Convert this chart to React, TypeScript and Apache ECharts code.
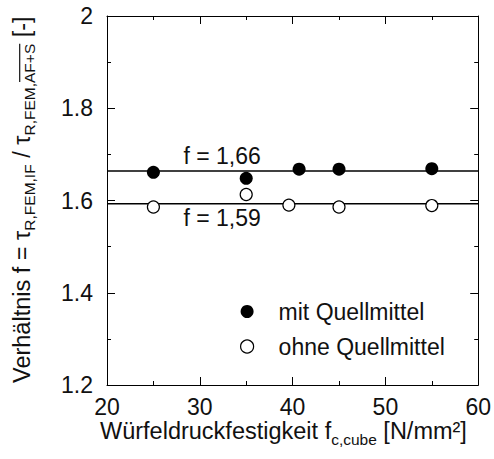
import React, { useEffect, useRef } from "react";
import * as echarts from "echarts";

// ---- data ----
const xMin = 20;
const xMax = 60;
const xStep = 10;
const yMin = 1.2;
const yMax = 2.0;
const yStep = 0.2;

const seriesNames = ["mit Quellmittel", "ohne Quellmittel"];
const mitX = [25, 35, 40.7, 45, 55];
const mitY = [1.661, 1.648, 1.668, 1.668, 1.669];
const ohneX = [25, 35, 39.6, 45, 55];
const ohneY = [1.586, 1.613, 1.59, 1.586, 1.589];

const fitLevels = [1.664, 1.593];
const fitLabels = ["f = 1,66", "f = 1,59"];
const fitLabelX = [32.4, 32.4];
const fitLabelY = [1.696, 1.563];

const yTitleParts = [
  { t: "Verhältnis f = τ", sub: false, over: false },
  { t: "R,FEM,IF", sub: true, over: false },
  { t: " / τ", sub: false, over: false },
  { t: "R,FEM,", sub: true, over: false },
  { t: "AF+S", sub: true, over: true },
  { t: " [-]", sub: false, over: false },
];
const xTitleParts = [
  { t: "Würfeldruckfestigkeit f", sub: false, over: false },
  { t: "c,cube", sub: true, over: false },
  { t: " [N/mm²]", sub: false, over: false },
];

const FONT = "Liberation Sans, Arial, sans-serif";
const INK = "#111";

function measure(text: string, size: number) {
  const ctx = document.createElement("canvas").getContext("2d")!;
  ctx.font = `${size}px ${FONT}`;
  return ctx.measureText(text).width;
}

function buildRich(parts: { t: string; sub: boolean; over: boolean }[], main: number, sub: number, subDy: number) {
  const children: any[] = [];
  let cur = 0;
  for (const p of parts) {
    const size = p.sub ? sub : main;
    const w = measure(p.t, size);
    children.push({
      type: "text",
      x: cur,
      y: p.sub ? subDy : 0,
      style: {
        text: p.t,
        fontSize: size,
        fontFamily: FONT,
        fill: INK,
        align: "left",
        verticalAlign: "middle",
      },
    });
    if (p.over) {
      children.push({
        type: "line",
        shape: { x1: cur + 1, y1: subDy - sub * 0.6, x2: cur + w, y2: subDy - sub * 0.6 },
        style: { stroke: INK, lineWidth: 1.2 },
      });
    }
    cur += w;
  }
  return { children, width: cur };
}

export default function App() {
  const ref = useRef<HTMLDivElement>(null);

  useEffect(() => {
    if (!ref.current) return;
    const chart = echarts.init(ref.current, undefined, { renderer: "svg" });

    const yT = buildRich(yTitleParts, 23.5, 15.5, 7);
    const xT = buildRich(xTitleParts, 23.5, 15.5, 8);

    const axisCommon = {
      type: "value" as const,
      axisLine: { show: true, lineStyle: { color: "#000", width: 1 } },
      axisTick: { show: true, inside: true, length: 8, lineStyle: { color: "#000" } },
      minorTick: { show: true, splitNumber: 2, length: 4, lineStyle: { color: "#000" } },
      splitLine: { show: false },
    };

    chart.setOption({
      animation: false,
      textStyle: { fontFamily: FONT },
      grid: { left: 107, right: 14, top: 16, bottom: 74, containLabel: false },
      xAxis: [
        {
          ...axisCommon,
          min: xMin,
          max: xMax,
          interval: xStep,
          position: "bottom",
          axisLabel: { fontSize: 23, color: INK, margin: 10, fontFamily: FONT },
        },
        {
          ...axisCommon,
          min: xMin,
          max: xMax,
          interval: xStep,
          position: "top",
          axisLabel: { show: false },
        },
      ],
      yAxis: [
        {
          ...axisCommon,
          min: yMin,
          max: yMax,
          interval: yStep,
          position: "left",
          axisLabel: { fontSize: 23, color: INK, margin: 14, fontFamily: FONT },
        },
        {
          ...axisCommon,
          min: yMin,
          max: yMax,
          interval: yStep,
          position: "right",
          axisLabel: { show: false },
        },
      ],
      legend: {
        orient: "vertical",
        left: 240,
        top: 300,
        padding: 0,
        itemWidth: 13,
        itemHeight: 13,
        itemGap: 12,
        textStyle: { fontSize: 23, color: INK, fontFamily: FONT, padding: [0, 0, 0, 20] },
        data: [
          { name: seriesNames[0], icon: "circle", itemStyle: { color: "#000", borderWidth: 0, opacity: 1 } },
          {
            name: seriesNames[1],
            icon: "circle",
            itemStyle: { color: "#fff", borderColor: "#000", borderWidth: 1.2, opacity: 1 },
          },
        ],
      },
      series: [
        ...fitLevels.map((lv, i) => ({
          type: "line",
          name: "fit" + i,
          data: [
            [xMin, lv],
            [xMax, lv],
          ],
          symbol: "none",
          lineStyle: { color: "#000", width: 1.5 },
          silent: true,
          z: 1,
        })),
        {
          type: "scatter",
          name: seriesNames[0],
          data: mitX.map((x, i) => [x, mitY[i]]),
          symbol: "circle",
          symbolSize: 13,
          itemStyle: { color: "#000", opacity: 1 },
          z: 3,
        },
        {
          type: "scatter",
          name: seriesNames[1],
          data: ohneX.map((x, i) => [x, ohneY[i]]),
          symbol: "circle",
          symbolSize: 12,
          itemStyle: { color: "#fff", borderColor: "#000", borderWidth: 1.2, opacity: 1 },
          z: 3,
        },
        {
          type: "scatter",
          name: "labels",
          data: fitLabels.map((t, i) => ({ value: [fitLabelX[i], fitLabelY[i]], name: t })),
          symbolSize: 0,
          silent: true,
          itemStyle: { opacity: 1 },
          label: {
            show: true,
            position: "inside",
            formatter: (p: any) => p.name,
            fontSize: 23,
            color: INK,
            fontFamily: FONT,
          },
          z: 4,
        },
      ],
      graphic: [
        {
          type: "group",
          x: 22,
          y: 383,
          rotation: Math.PI / 2,
          children: yT.children,
        },
        {
          type: "group",
          x: 100,
          y: 431,
          children: xT.children,
        },
      ],
    });

    return () => chart.dispose();
  }, []);

  return (
    <div
      ref={ref}
      style={{ position: "absolute", left: 0, top: 0, width: 494, height: 459, background: "#fff" }}
    />
  );
}
